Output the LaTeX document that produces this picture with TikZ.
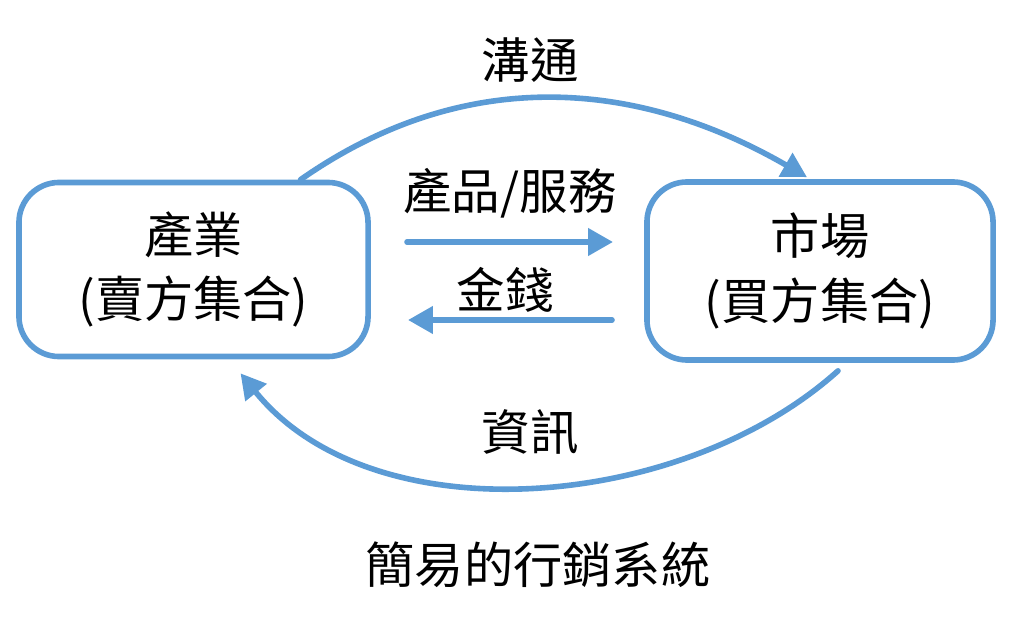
\documentclass[tikz,border=0pt]{standalone}
\usepackage{fontspec}
\setmainfont{Noto Sans CJK TC}
\usetikzlibrary{arrows.meta}
\definecolor{flowblue}{RGB}{91,155,213}

\begin{document}
\begin{tikzpicture}[line cap=round,line join=round,>={Triangle[length=0.62cm,width=0.66cm]},x=0.025cm,y=-0.025cm,
  box/.style={draw=flowblue,line width=0.14cm,rounded corners=1cm,align=center,font=\fontsize{35}{46}\selectfont},
  flow/.style={->,draw=flowblue,line width=0.14cm},
  lbl/.style={font=\fontsize{34.5}{46}\selectfont}]
\useasboundingbox (0,0) rectangle (1024,622);
% the two sides
\node[box,minimum width=8.725cm,minimum height=4.35cm] (seller) at (193.5,269.5) {產業\\(賣方集合)};
\node[box,minimum width=8.65cm,minimum height=4.45cm] (buyer) at (820,271) {市場\\(買方集合)};
% goods and money
\coordinate (goodsA) at (407,242);
\coordinate (goodsB) at (613,242);
\coordinate (moneyA) at (612,320);
\coordinate (moneyB) at (408,320);
\draw[flow] (goodsA) -- (goodsB);
\draw[flow] (moneyA) -- (moneyB);
% communication and information
\draw[flow] ([xshift=2.675cm]seller.north) to[out=35,in=150] ([xshift=-0.325cm,yshift=0.05cm]buyer.north);
\draw[flow] ([xshift=0.45cm,yshift=-0.2cm]buyer.south) to[out=222,in=309,looseness=0.9] ([xshift=1.175cm,yshift=-0.35cm]seller.south);
% labels
\node[lbl] (talk) at (530,60) {溝通};
\node[lbl] (goods) at (510,193) {產品/服務};
\node[lbl] (money) at (505,290) {金錢};
\node[lbl] (info) at (530,432) {資訊};
\node[font=\fontsize{35}{46}\selectfont] (title) at (538,565) {簡易的行銷系統};
\end{tikzpicture}
\end{document}
